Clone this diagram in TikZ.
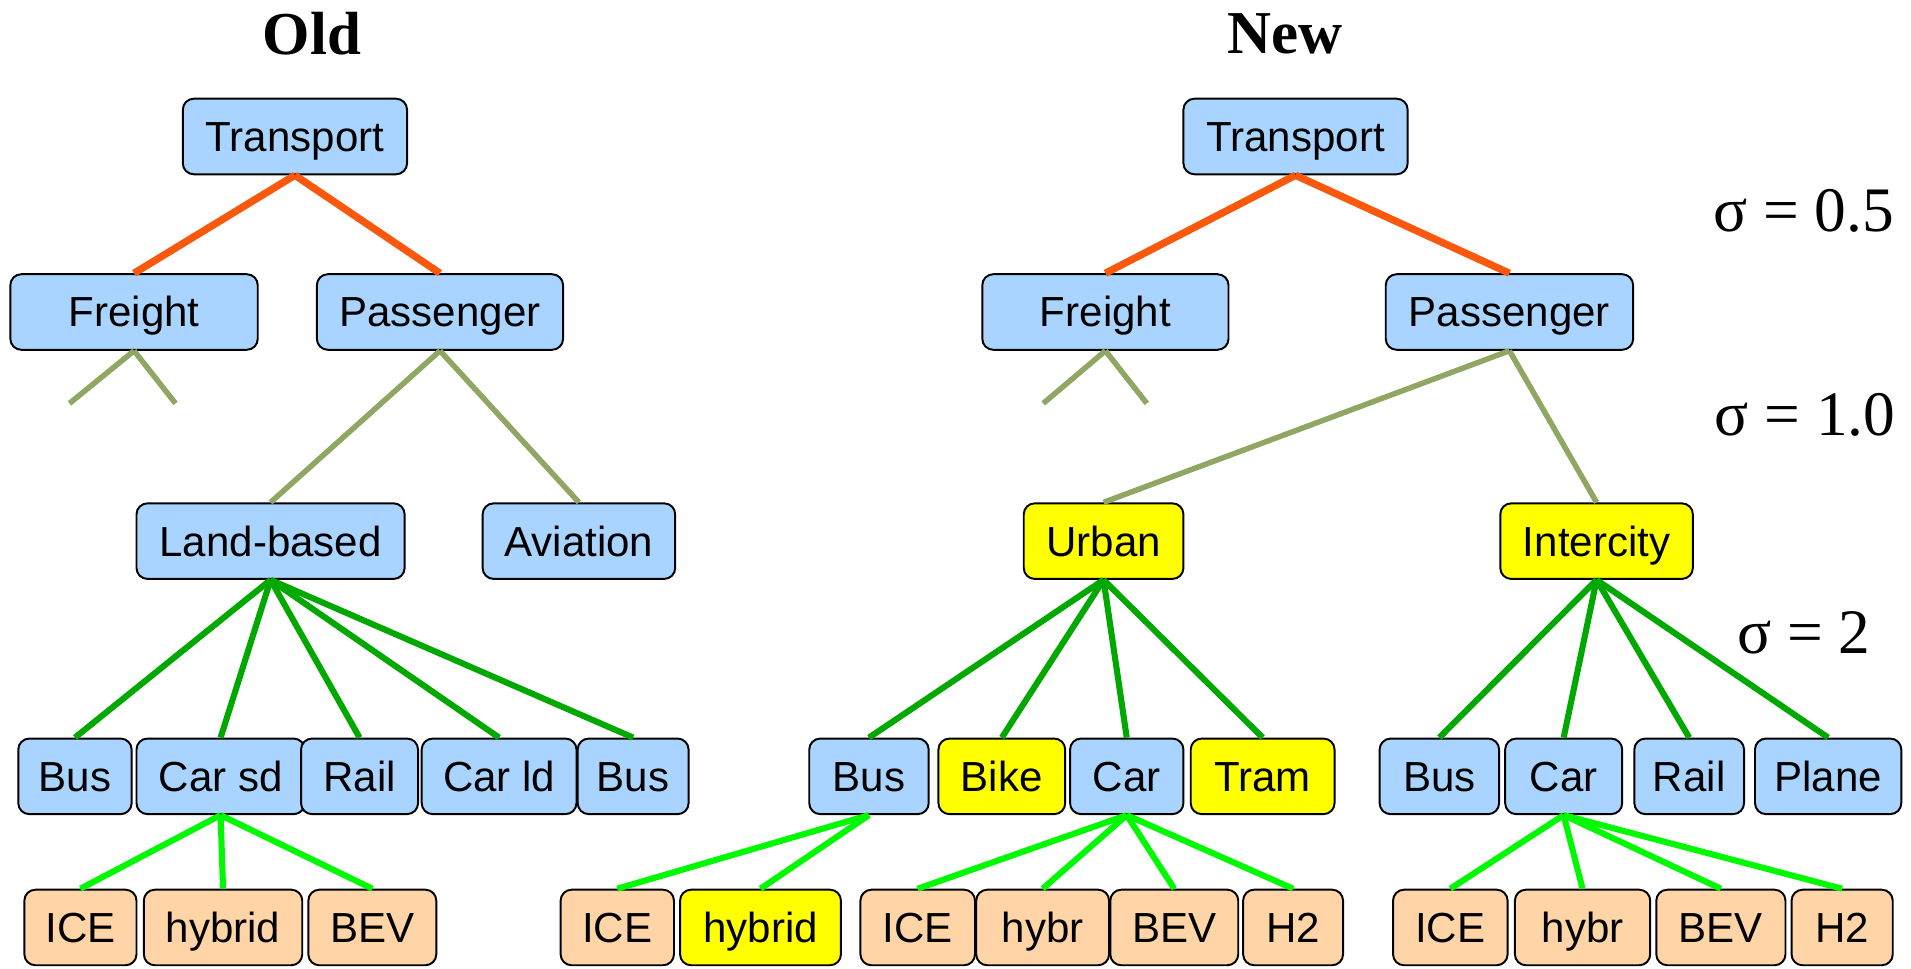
\documentclass[tikz,border=0pt]{standalone}
\usepackage{fontspec}
\setmainfont{Liberation Sans}
\newfontfamily\serifft{Liberation Serif}
\definecolor{bluef}{HTML}{A8D4FF}
\definecolor{peachf}{HTML}{FFD4A6}
\definecolor{yellowf}{HTML}{FFFF00}
\definecolor{orangeE}{HTML}{FA580C}
\definecolor{oliveE}{HTML}{8FA763}
\definecolor{dgreenE}{HTML}{00A800}
\definecolor{lgreenE}{HTML}{00F800}
\tikzset{
  bbox/.style={draw=black, line width=1.6pt, rounded corners=9pt, fill=bluef,
    minimum height=62pt, inner sep=0pt, text height=24.5pt, text depth=0pt,
    font=\fontsize{34.5}{40}\selectfont},
  pbox/.style={bbox, fill=peachf},
  ybox/.style={bbox, fill=yellowf},
  wd/.style={minimum width=#1pt},
  title/.style={font=\serifft\bfseries\fontsize{50}{55}\selectfont},
  sig/.style={font=\serifft\fontsize{52}{56}\selectfont},
  eo/.style={draw=orangeE, line width=6pt},
  eol/.style={draw=oliveE, line width=4.5pt},
  edg/.style={draw=dgreenE, line width=5pt},
  elg/.style={draw=lgreenE, line width=5pt},
}
\begin{document}
\begin{tikzpicture}[x=1pt,y=-1pt]
\useasboundingbox (0,0) rectangle (1568,795);
% titles
\node[title] (oldt) at (256,28) {Old};
\node[title] (newt) at (1054,28) {New};
% sigma labels
\node[sig] (s1) at (1480,173) {σ~=~0.5};
\node[sig] (s2) at (1481,340) {σ~=~1.0};
\node[sig] (s3) at (1480,519) {σ~=~2};
% ---------------- Old tree
\node[bbox, wd=184] (oT) at (242,112) {Transport};
\node[bbox, wd=203] (oF) at (110,256) {Freight};
\node[bbox, wd=202] (oP) at (361,256) {Passenger};
\node[bbox, wd=220] (oL) at (222,444) {Land-based};
\node[bbox, wd=158] (oA) at (475,444) {Aviation};
\node[bbox, wd=93]  (oBus) at (61.5,637) {Bus};
\node[bbox, wd=138] (oCsd) at (181,637) {Car sd};
\node[bbox, wd=96]  (oRail) at (295,637) {Rail};
\node[bbox, wd=127] (oCld) at (409.5,637) {Car ld};
\node[bbox, wd=91]  (oBus2) at (519.5,637) {Bus};
\node[pbox, wd=92]  (oICE) at (66,761) {ICE};
\node[pbox, wd=130] (oHyb) at (183,761) {hybrid};
\node[pbox, wd=105] (oBEV) at (305.5,761) {BEV};
\coordinate (oFa) at (57,331);
\coordinate (oFb) at (144,331);
% ---------------- New tree
\node[bbox, wd=184] (nT) at (1063,112) {Transport};
\node[bbox, wd=202] (nF) at (907,256) {Freight};
\node[bbox, wd=203] (nP) at (1238.5,256) {Passenger};
\node[ybox, wd=131] (nU) at (905.5,444) {Urban};
\node[ybox, wd=158] (nI) at (1310,444) {Intercity};
\node[bbox, wd=98]  (nBus) at (713,637) {Bus};
\node[ybox, wd=104] (nBike) at (822,637) {Bike};
\node[bbox, wd=93]  (nCar) at (924.5,637) {Car};
\node[ybox, wd=118] (nTram) at (1036,637) {Tram};
\node[bbox, wd=98]  (iBus) at (1181,637) {Bus};
\node[bbox, wd=96]  (iCar) at (1283,637) {Car};
\node[bbox, wd=90]  (iRail) at (1386,637) {Rail};
\node[bbox, wd=120] (iPlane) at (1500,637) {Plane};
\node[pbox, wd=93]  (bICE) at (506.5,761) {ICE};
\node[ybox, wd=132] (bHyb) at (624,761) {hybrid};
\node[pbox, wd=94]  (cICE) at (753,761) {ICE};
\node[pbox, wd=109] (cHyb) at (855.5,761) {hybr};
\node[pbox, wd=105] (cBEV) at (963.5,761) {BEV};
\node[pbox, wd=82]  (cH2) at (1061,761) {H2};
\node[pbox, wd=94]  (dICE) at (1190,761) {ICE};
\node[pbox, wd=111] (dHyb) at (1298.5,761) {hybr};
\node[pbox, wd=106] (dBEV) at (1412,761) {BEV};
\node[pbox, wd=83]  (dH2) at (1511.5,761) {H2};
\coordinate (nFa) at (856,331);
\coordinate (nFb) at (941,331);
% ---------------- connectors
\draw[eo] (oT.south) -- (oF.north);
\draw[eo] (oT.south) -- (oP.north);
\draw[eol] (oF.south) -- (oFa);
\draw[eol] (oF.south) -- (oFb);
\draw[eol] (oP.south) -- (oL.north);
\draw[eol] (oP.south) -- (oA.north);
\foreach \c in {oBus,oCsd,oRail,oCld,oBus2} \draw[edg] (oL.south) -- (\c.north);
\foreach \c in {oICE,oHyb,oBEV} \draw[elg] (oCsd.south) -- (\c.north);
\draw[eo] (nT.south) -- (nF.north);
\draw[eo] (nT.south) -- (nP.north);
\draw[eol] (nF.south) -- (nFa);
\draw[eol] (nF.south) -- (nFb);
\draw[eol] (nP.south) -- (nU.north);
\draw[eol] (nP.south) -- (nI.north);
\foreach \c in {nBus,nBike,nCar,nTram} \draw[edg] (nU.south) -- (\c.north);
\foreach \c in {iBus,iCar,iRail,iPlane} \draw[edg] (nI.south) -- (\c.north);
\foreach \c in {bICE,bHyb} \draw[elg] (nBus.south) -- (\c.north);
\foreach \c in {cICE,cHyb,cBEV,cH2} \draw[elg] (nCar.south) -- (\c.north);
\foreach \c in {dICE,dHyb,dBEV,dH2} \draw[elg] (iCar.south) -- (\c.north);
\end{tikzpicture}
\end{document}
